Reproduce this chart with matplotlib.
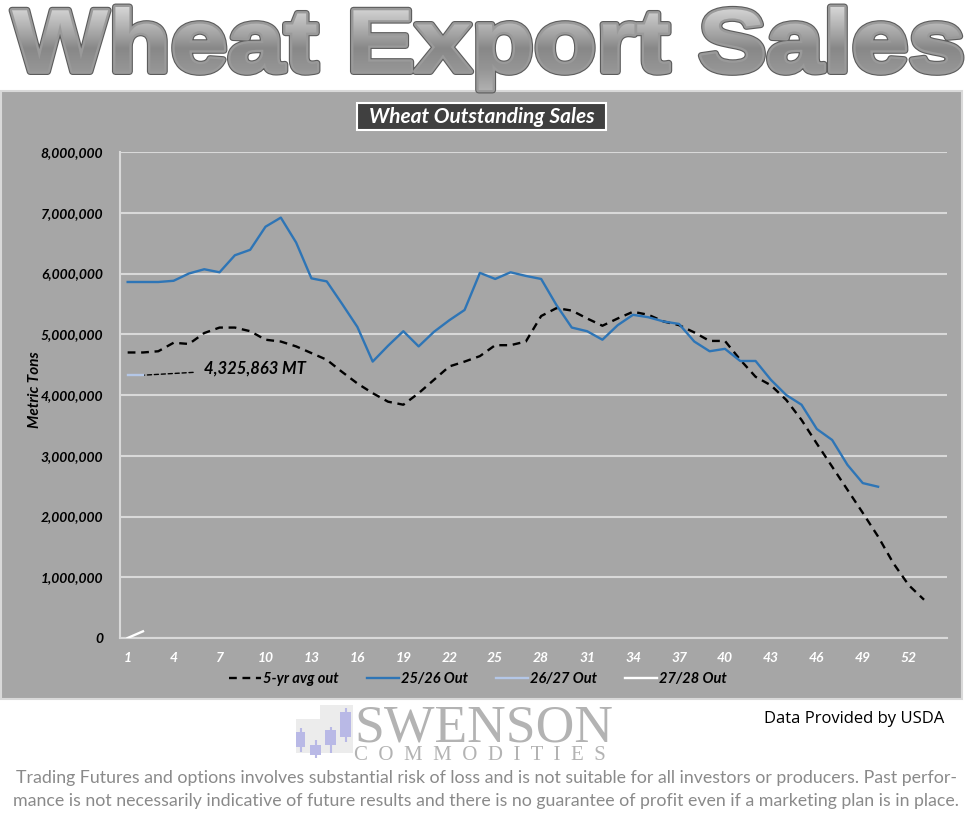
import numpy as np
import matplotlib
matplotlib.use("Agg")
import matplotlib.pyplot as plt
from matplotlib.textpath import TextPath
from matplotlib.font_manager import FontProperties
from matplotlib.patches import PathPatch, Rectangle
from matplotlib.transforms import Affine2D
from matplotlib.colors import LinearSegmentedColormap

# ---------------- data ----------------
weeks_avg = list(range(1, 54))
avg_5yr = [4700000, 4700000, 4720000, 4860000, 4840000, 5020000, 5110000, 5110000, 5050000, 4910000,
           4880000, 4800000, 4690000, 4580000, 4380000, 4190000, 4030000, 3890000, 3840000, 4030000,
           4250000, 4470000, 4550000, 4640000, 4820000, 4820000, 4880000, 5300000, 5430000, 5390000,
           5260000, 5140000, 5260000, 5370000, 5320000, 5210000, 5150000, 5030000, 4890000, 4890000,
           4580000, 4300000, 4160000, 3920000, 3590000, 3200000, 2820000, 2440000, 2060000, 1670000,
           1230000, 870000, 630000]
weeks_2526 = list(range(1, 51))
out_2526 = [5860000, 5860000, 5860000, 5880000, 6000000, 6070000, 6020000, 6300000, 6390000, 6770000,
            6920000, 6510000, 5920000, 5870000, 5500000, 5120000, 4550000, 4810000, 5050000, 4800000,
            5040000, 5230000, 5400000, 6010000, 5910000, 6020000, 5960000, 5910000, 5480000, 5110000,
            5050000, 4910000, 5150000, 5320000, 5280000, 5210000, 5170000, 4880000, 4720000, 4760000,
            4560000, 4560000, 4250000, 4000000, 3840000, 3440000, 3260000, 2850000, 2550000, 2490000]
weeks_2627 = [1, 2]
out_2627 = [4325863, 4325863]
weeks_2728 = [1, 2]
out_2728 = [0, 110000]
series_labels = ["5-yr avg out", "25/26 Out", "26/27 Out", "27/28 Out"]
xtick_vals = list(range(1, 53, 3))
xtick_labels = [str(v) for v in xtick_vals]
ytick_vals = list(range(0, 8000001, 1000000))
ytick_labels = [f"{v:,}" for v in ytick_vals]
data_label = "4,325,863 MT"
chart_title = "Wheat Outstanding Sales"
big_title = "Wheat Export Sales"
y_label = "Metric Tons"
logo_main = "SWENSON"
logo_sub = "C  O  M  M  O  D  I  T  I  E  S"
source_text = "Data Provided by USDA"
disclaimer1 = "Trading Futures and options involves substantial risk of loss and is not suitable for all investors or producers. Past perfor-"
disclaimer2 = "mance is not necessarily indicative of future results and there is no guarantee of profit even if a marketing plan is in place."

# ---------------- figure ----------------
W, H = 974, 836
fig = plt.figure(figsize=(W / 100, H / 100), dpi=100)
fig.patch.set_facecolor("white")

bg = fig.add_axes([0, 0, 1, 1], zorder=0)
bg.set_xlim(0, W)
bg.set_ylim(H, 0)
bg.axis("off")

# gray panel
bg.add_patch(Rectangle((0.5, 91), 961.5, 608, facecolor="#a6a6a6", edgecolor="#d9d9d9", lw=1.5, zorder=0))

# big title with gradient (heavy outline to mimic a black-weight face)
fp_title = FontProperties(family=["Liberation Sans", "DejaVu Sans"], weight="bold")
tp = TextPath((0, 0), big_title, size=100, prop=fp_title)
ext = tp.get_extents()
x_left, x_right, y_top, y_bot = 12, 961, 7, 90
sx = (x_right - x_left) / ext.width
sy = (y_bot - y_top) / ext.height
tr = Affine2D().translate(-ext.x0, -ext.y0).scale(sx, -sy).translate(x_left, y_bot)
path = tr.transform_path(tp)
bg.add_patch(PathPatch(path, facecolor="#5c5c5c", edgecolor="#5c5c5c", lw=5.0, zorder=2,
                       joinstyle="round"))
bg.add_patch(PathPatch(path, facecolor="#8e8e8e", edgecolor="#9a9a9a", lw=3.4, zorder=3,
                       joinstyle="round"))
cmap = LinearSegmentedColormap.from_list("g", ["#d6d6d6", "#b0b0b0", "#888888", "#959595", "#b0b0b0"])
grad = np.linspace(0, 1, 256).reshape(-1, 1)
im = bg.imshow(grad, cmap=cmap, extent=(x_left, x_right, y_bot, y_top), aspect="auto",
               origin="upper", zorder=4)
clip = PathPatch(path, facecolor="none", edgecolor="none", transform=bg.transData)
bg.add_patch(clip)
im.set_clip_path(clip)
bg.set_xlim(0, W)
bg.set_ylim(H, 0)

# chart title box
bg.add_patch(Rectangle((357, 103), 249, 27, facecolor="#404040", edgecolor="white", lw=1.5, zorder=3))
bi = dict(family=["Lato", "DejaVu Sans"], weight="bold", style="italic")
bg.text(481.5, 117, chart_title, color="white", fontsize=15, ha="center", va="center", zorder=4, **bi)

# y label
bg.text(35, 390, y_label, rotation=90, fontsize=11, ha="center", va="center", color="black", **bi)

# logo
bg.add_patch(Rectangle((296, 705), 57, 48, facecolor="#ececec", edgecolor="none"))
bg.add_patch(Rectangle((296, 705), 24, 14, facecolor="white", edgecolor="none"))
lav = "#b9b9e6"
for (x0, x1, b0, b1, w0, w1) in [(296, 305, 732, 747, 728, 752), (310, 321, 745, 755, 740, 758),
                                 (325, 336, 730, 745, 727, 753), (340, 351, 712, 737, 708, 742)]:
    xc = (x0 + x1) / 2
    bg.plot([xc, xc], [w0, w1], color=lav, lw=1.5, solid_capstyle="butt")
    bg.add_patch(Rectangle((x0, b0), x1 - x0, b1 - b0, facecolor=lav, edgecolor="none"))
bg.text(354, 742, logo_main, family=["Liberation Serif", "DejaVu Serif"], fontsize=38.5,
        color="#b3b3b3", ha="left", va="baseline")
bg.text(354, 760, logo_sub, family=["Liberation Serif", "DejaVu Serif"], fontsize=15,
        color="#b3b3b3", ha="left", va="baseline")

# source and disclaimer
bg.text(854, 719, source_text, family=["Open Sans", "DejaVu Sans"], fontsize=12, color="black",
        ha="center", va="center")
bg.text(486, 778, disclaimer1, family=["Lato", "DejaVu Sans"], fontsize=12.8, color="#8a8a8a",
        ha="center", va="center")
bg.text(486, 801, disclaimer2, family=["Lato", "DejaVu Sans"], fontsize=12.8, color="#8a8a8a",
        ha="center", va="center")

# ---------------- main chart ----------------
ax = fig.add_axes([120 / W, (H - 638) / H, 827 / W, 486 / H], zorder=2)
ax.patch.set_alpha(0)
ax.set_xlim(0.5, 54.5)
ax.set_ylim(0, 8000000)
ax.set_yticks(ytick_vals)
ax.set_yticklabels(ytick_labels, fontsize=10, color="black", **bi)
ax.set_xticks(xtick_vals)
ax.set_xticklabels(xtick_labels, fontsize=10, color="white", **bi)
ax.tick_params(length=0)
ax.tick_params(axis="y", pad=12)
ax.tick_params(axis="x", pad=10)
ax.grid(axis="y", color="#d9d9d9", lw=1.5)
ax.set_axisbelow(True)
for s in ["top", "right"]:
    ax.spines[s].set_visible(False)
for s in ["left", "bottom"]:
    ax.spines[s].set_color("#d9d9d9")
    ax.spines[s].set_linewidth(1.5)

l1, = ax.plot(weeks_avg, avg_5yr, color="black", lw=1.7, dashes=(3.3, 2.4), zorder=3)
l2, = ax.plot(weeks_2526, out_2526, color="#2e75b6", lw=1.7, zorder=4)
l3, = ax.plot(weeks_2627, out_2627, color="#b4c7e7", lw=1.7, zorder=4)
l4, = ax.plot(weeks_2728, out_2728, color="white", lw=1.7, zorder=4)

ax.annotate(data_label, xy=(weeks_2627[-1], out_2627[-1]), xytext=(6.0, 4430000),
            ha="left", va="center", fontsize=12, color="black",
            arrowprops=dict(arrowstyle="-", ls=(0, (3, 2)), color="black", lw=1.0,
                            shrinkA=6, shrinkB=0), **bi)

fig.legend([l1, l2, l3, l4], series_labels, loc="center",
           bbox_to_anchor=(478 / W, 1 - 679 / H), ncol=4, frameon=False,
           prop=FontProperties(family=["Lato", "DejaVu Sans"], weight="bold", style="italic", size=10.5),
           handlelength=2.2, columnspacing=1.9, handletextpad=0.15)

fig.savefig("out.png", dpi=100, facecolor="white")
